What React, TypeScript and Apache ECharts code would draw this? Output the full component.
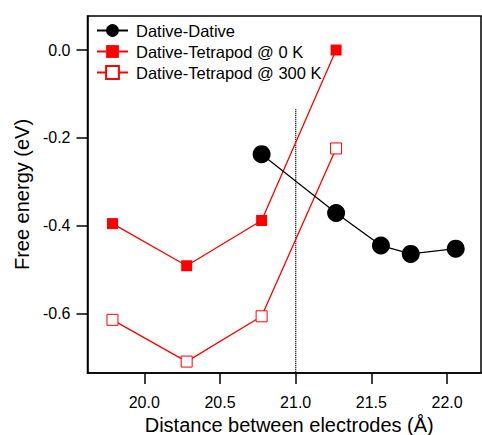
import React, { useEffect, useRef } from "react";
import * as echarts from "echarts";

const dativeX = [20.775, 21.267, 21.563, 21.76, 22.057];
const dativeY = [-0.237, -0.371, -0.445, -0.464, -0.452];
const tetraX = [19.79, 20.28, 20.775, 21.267];
const tetra0KY = [-0.395, -0.491, -0.388, 0.0];
const tetra300KY = [-0.614, -0.709, -0.606, -0.224];
const xTicks = [20.0, 20.5, 21.0, 21.5, 22.0];
const yTicks = [0.0, -0.2, -0.4, -0.6];
const thresholdX = [21.0, 21.0];
const thresholdY = [-0.135, -0.735];
const seriesNames = ["Dative-Dative", "Dative-Tetrapod @ 0 K", "Dative-Tetrapod @ 300 K"];

const FONT = "'Liberation Sans', Arial, sans-serif";

function zip(xs: number[], ys: number[]) {
  return xs.map((x, i) => [x, ys[i]]);
}

export default function App() {
  const ref = useRef<HTMLDivElement>(null);
  useEffect(() => {
    if (!ref.current) return;
    const chart = echarts.init(ref.current, undefined, { renderer: "svg" });
    chart.setOption({
      animation: false,
      backgroundColor: "#fff",
      grid: {
        left: 87.5,
        right: 1,
        top: 16,
        bottom: 62,
        outerBoundsMode: "none",
        containLabel: false,
        show: true,
        borderColor: "#000",
        borderWidth: 1.5,
        backgroundColor: "transparent",
      },
      legend: {
        data: seriesNames,
        orient: "vertical",
        left: 96,
        top: 22,
        padding: 0,
        itemWidth: 31,
        itemHeight: 16,
        itemGap: 4,
        textStyle: { fontFamily: FONT, fontSize: 16.5, color: "#000", padding: [0, 0, 0, 3] },
      },
      xAxis: {
        type: "value",
        min: 19.625,
        max: 22.224,
        name: "Distance between electrodes (Å)",
        nameLocation: "middle",
        nameGap: 42,
        nameTextStyle: { fontFamily: FONT, fontSize: 20, color: "#000", padding: [0, 0, 0, 10] },
        axisLine: { onZero: false, lineStyle: { color: "#000", width: 1.5 } },
        axisTick: { show: true, length: 11, lineStyle: { color: "#000", width: 1.5 }, customValues: xTicks },
        axisLabel: {
          customValues: xTicks,
          formatter: (v: number) => v.toFixed(1),
          fontFamily: FONT,
          fontSize: 16,
          color: "#000",
          margin: 21,
        },
        splitLine: { show: false },
      },
      yAxis: {
        type: "value",
        min: -0.735,
        max: 0.0774,
        name: "Free energy (eV)",
        nameLocation: "middle",
        nameGap: 55,
        nameTextStyle: { fontFamily: FONT, fontSize: 20, color: "#000" },
        axisLine: { onZero: false, lineStyle: { color: "#000", width: 1.5 } },
        axisTick: { show: true, length: 11, lineStyle: { color: "#000", width: 1.5 }, customValues: yTicks },
        axisLabel: {
          customValues: yTicks,
          formatter: (v: number) => v.toFixed(1),
          fontFamily: FONT,
          fontSize: 16,
          color: "#000",
          margin: 17,
        },
        splitLine: { show: false },
      },
      series: [
        {
          name: "threshold",
          type: "line",
          data: zip(thresholdX, thresholdY),
          symbol: "none",
          lineStyle: { color: "#000", width: 1.4, type: [1, 1] },
          silent: true,
          z: 1,
        },
        {
          name: seriesNames[0],
          type: "line",
          data: zip(dativeX, dativeY),
          symbol: "circle",
          symbolSize: 18,
          showAllSymbol: true,
          itemStyle: { color: "#000" },
          lineStyle: { color: "#000", width: 1.3 },
          z: 3,
        },
        {
          name: seriesNames[1],
          type: "line",
          data: zip(tetraX, tetra0KY),
          symbol: "rect",
          symbolSize: 11,
          showAllSymbol: true,
          itemStyle: { color: "#ff0000" },
          lineStyle: { color: "#ff0000", width: 1.3 },
          z: 2,
        },
        {
          name: seriesNames[2],
          type: "line",
          data: zip(tetraX, tetra300KY),
          symbol: "rect",
          symbolSize: 11,
          showAllSymbol: true,
          itemStyle: { color: "#fff", borderColor: "#ff0000", borderWidth: 1 },
          lineStyle: { color: "#ff0000", width: 1.3 },
          z: 2,
        },
      ],
    });
    return () => chart.dispose();
  }, []);
  return (
    <div
      ref={ref}
      style={{ position: "fixed", left: 0, top: 0, width: 482, height: 435 }}
    />
  );
}
